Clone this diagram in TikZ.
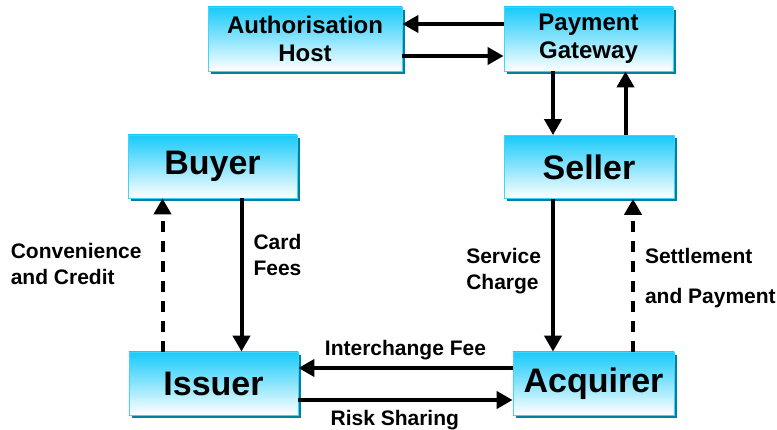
\documentclass[tikz,border=0pt]{standalone}
\usepackage{fontspec}
\setmainfont{Liberation Sans}
\usepackage{tikz}
\usetikzlibrary{arrows.meta,positioning,shadows}
\definecolor{boxcyan}{HTML}{18CAFA}
\definecolor{boxline}{HTML}{40D4FA}
\definecolor{boxedge}{HTML}{00809E}

\begin{document}
\begin{tikzpicture}[
  x=1pt, y=-1pt,
  box/.style={rectangle, draw=boxline, line width=0.8pt, top color=boxcyan, bottom color=white,
    general shadow={fill=boxedge, shadow xshift=3pt, shadow yshift=-3pt},
    minimum height=63pt, minimum width=169pt, inner sep=0pt, align=center},
  party/.style={box, font=\bfseries\fontsize{34}{38}\selectfont},
  host/.style={box, minimum height=64pt, font=\bfseries\fontsize{24}{28}\selectfont},
  lbl/.style={font=\bfseries\fontsize{21}{26}\selectfont, align=left, inner sep=0pt},
  arr/.style={-{Triangle[length=16pt,width=17pt]}, line width=4pt},
  darr/.style={arr, dash pattern=on 11pt off 9pt},
]
  \useasboundingbox (0,0) rectangle (777,430);

  \node[host, minimum width=194pt] (auth) at (305,39) {Authorisation\\Host};
  \node[host] (gate) at (588.5,39) {Payment\\Gateway};
  \node[party] (buyer) at (212.5,166.5) {Buyer};
  \node[party, minimum width=170pt] (seller) at (589,167) {Seller};
  \node[party] (issuer) at (213.5,383.5) {Issuer};
  \node[party, minimum width=161pt] (acq) at (593.5,383.5) {Acquirer};

  \draw[arr] ([yshift=15pt]gate.west) -- ([yshift=15pt]gate.west -| auth.east);
  \draw[arr] ([yshift=-17pt]auth.east) -- ([yshift=-17pt]auth.east -| gate.west);
  \draw[arr] ([xshift=-35.5pt]gate.south) -- ([xshift=-35.5pt]gate.south |- seller.north);
  \draw[arr] ([xshift=36.5pt]seller.north) -- ([xshift=36.5pt]seller.north |- gate.south);

  \draw[darr] ([xshift=-51pt]issuer.north) -- ([xshift=-51pt]issuer.north |- buyer.south)
    node[lbl, left=19pt, pos=0.57] {Convenience\\and Credit};
  \draw[arr] ([xshift=29pt]buyer.south) -- ([xshift=29pt]buyer.south |- issuer.north)
    node[lbl, right=10pt, pos=0.37] {Card\\Fees};

  \draw[arr] ([xshift=-36pt]seller.south) -- ([xshift=-36pt]seller.south |- acq.north)
    node[lbl, left=10pt, pos=0.47] {Service\\Charge};
  \draw[darr] ([xshift=39.5pt]acq.north) -- ([xshift=39.5pt]acq.north |- seller.south)
    node[lbl, right=10pt, pos=0.48] {Settlement\\[14pt]and Payment};

  \draw[arr] ([yshift=15.5pt]acq.west) -- ([yshift=15.5pt]acq.west -| issuer.east)
    node[lbl, above=6pt, midway] {Interchange Fee};
  \draw[arr] ([yshift=-16.5pt]issuer.east) -- ([yshift=-16.5pt]issuer.east -| acq.west)
    node[lbl, below=8pt, pos=0.45] {Risk Sharing};
\end{tikzpicture}
\end{document}
